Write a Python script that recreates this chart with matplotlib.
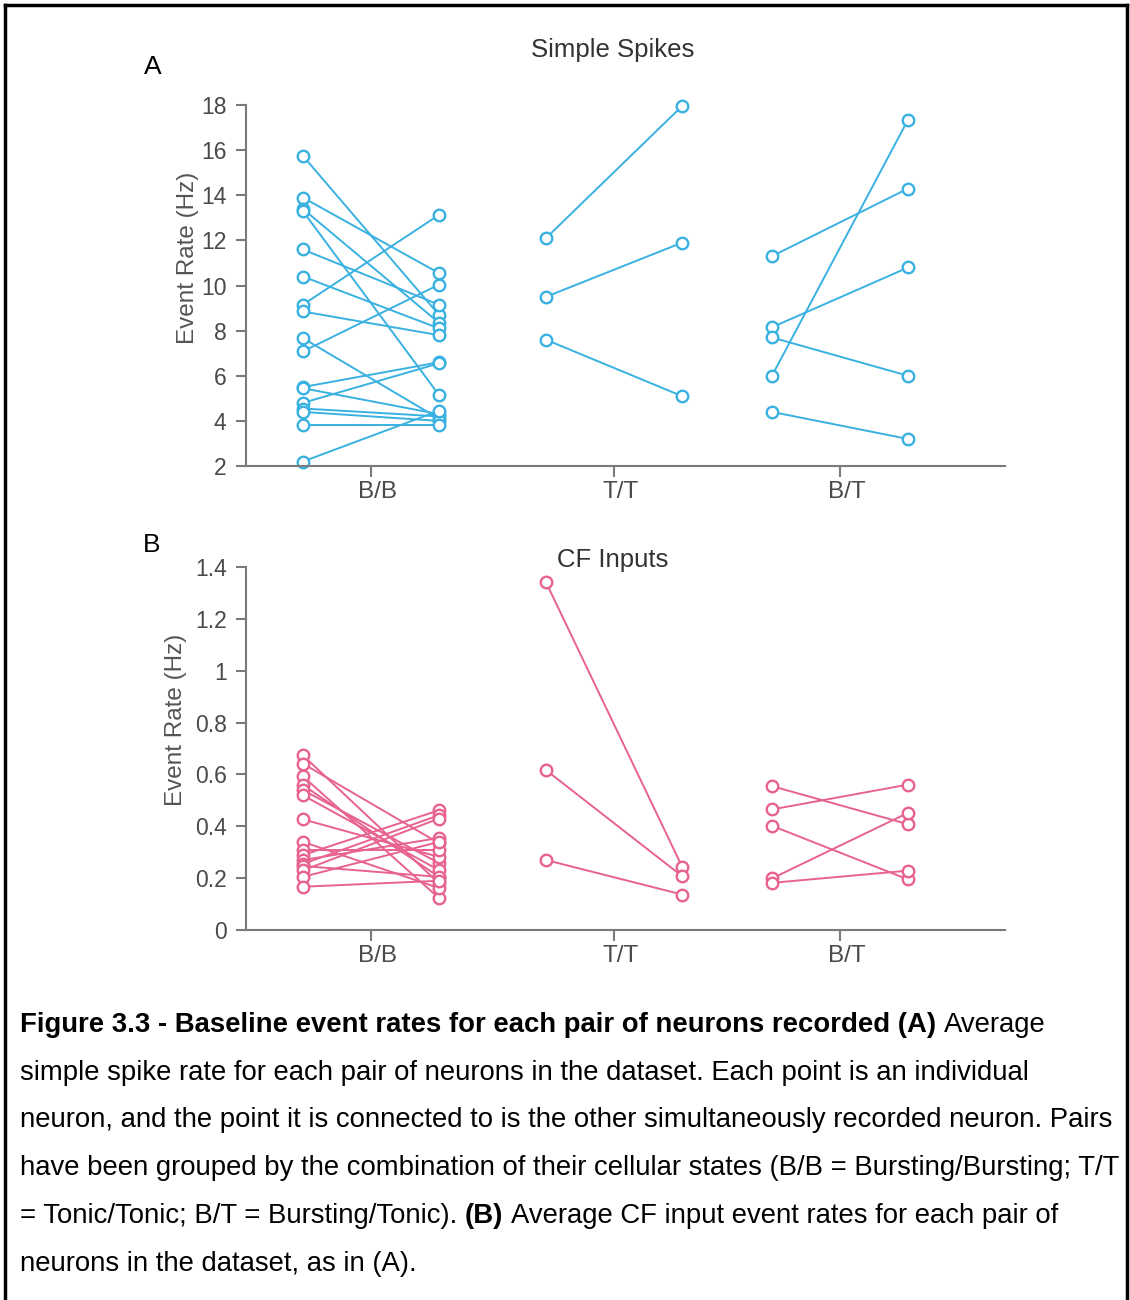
import matplotlib.pyplot as plt
from matplotlib.lines import Line2D

plt.rcParams['font.family'] = ['Liberation Sans', 'DejaVu Sans']

groups = ['B/B', 'T/T', 'B/T']
group_x = [1.0, 2.0, 2.93]
half = 0.28

# (A) simple spike rate (Hz): first / second neuron of each pair
ss_bb_1 = [15.75, 13.9, 13.4, 13.3, 11.6, 10.4, 9.15, 8.85, 7.67, 7.08,
           5.5, 5.45, 4.8, 4.55, 4.4, 3.8, 2.2]
ss_bb_2 = [8.7, 10.55, 8.35, 5.15, 9.15, 8.1, 13.13, 7.8, 4.1, 10.04,
           6.6, 4.3, 6.55, 4.2, 4.0, 3.8, 4.45]
ss_tt_1 = [12.1, 9.5, 7.6]
ss_tt_2 = [17.95, 11.9, 5.1]
ss_bt_1 = [11.3, 8.15, 7.7, 6.0, 4.4]
ss_bt_2 = [14.3, 10.8, 6.0, 17.35, 3.2]

# (B) CF input event rate (Hz)
cf_bb_1 = [0.674, 0.642, 0.593, 0.559, 0.54, 0.52, 0.427, 0.34, 0.308,
           0.289, 0.27, 0.255, 0.247, 0.23, 0.205, 0.167]
cf_bb_2 = [0.18, 0.335, 0.123, 0.205, 0.258, 0.231, 0.282, 0.162, 0.308,
           0.462, 0.355, 0.443, 0.205, 0.43, 0.34, 0.19]
cf_tt_1 = [1.342, 0.617, 0.27]
cf_tt_2 = [0.245, 0.208, 0.137]
cf_bt_1 = [0.555, 0.465, 0.402, 0.199, 0.182]
cf_bt_2 = [0.408, 0.561, 0.195, 0.452, 0.229]

blue = '#39b1e1'
pink = '#e8628e'
grey = '#7a7a7a'

fig = plt.figure(figsize=(11.3, 13), dpi=100)


def panel(rect, data, color, ylim, yticks, yticklabels, label_xy):
    ax = fig.add_axes(rect)
    for x, (first, second) in zip(group_x, data):
        for a, b in zip(first, second):
            ax.plot([x - half, x + half], [a, b], '-o', color=color, lw=1.4,
                    ms=8.3, mfc='white', mew=1.7, clip_on=False)
    ax.set_xlim(0.486, 3.609)
    ax.set_ylim(*ylim)
    ax.set_yticks(yticks)
    ax.set_yticklabels(yticklabels)
    ax.set_xticks(group_x)
    ax.set_xticklabels([])
    for x, g in zip(group_x, groups):
        ax.annotate(g, (x, 0), xycoords=('data', 'axes fraction'),
                    xytext=(5, -19), textcoords='offset points',
                    ha='center', va='center', fontsize=17.5, color='#4a4a4a')
    ax.tick_params(axis='y', labelsize=16.5, labelcolor='#4a4a4a', length=7,
                   width=1.5, color=grey, pad=7)
    ax.tick_params(axis='x', length=8, width=1.5, color=grey)
    for s in ['top', 'right']:
        ax.spines[s].set_visible(False)
    for s in ['left', 'bottom']:
        ax.spines[s].set_color(grey)
        ax.spines[s].set_linewidth(1.5)
    ax.set_ylabel('Event Rate (Hz)', fontsize=17.5, color='#555555')
    ax.yaxis.set_label_coords(*label_xy)
    return ax


axA = panel([0.2177, 0.6415, 0.6717, 0.2777],
            [(ss_bb_1, ss_bb_2), (ss_tt_1, ss_tt_2), (ss_bt_1, ss_bt_2)],
            blue, (2, 18), range(2, 19, 2), [str(v) for v in range(2, 19, 2)],
            (-0.062, 0.576))
axB = panel([0.2177, 0.2846, 0.6717, 0.2792],
            [(cf_bb_1, cf_bb_2), (cf_tt_1, cf_tt_2), (cf_bt_1, cf_bt_2)],
            pink, (0, 1.4), [0, 0.2, 0.4, 0.6, 0.8, 1, 1.2, 1.4],
            ['0', '0.2', '0.4', '0.6', '0.8', '1', '1.2', '1.4'],
            (-0.078, 0.578))

fig.text(613 / 1130, 1 - 50 / 1300, 'Simple Spikes', fontsize=18.5,
         color='#333333', ha='center', va='center')
fig.text(613 / 1130, 1 - 560 / 1300, 'CF Inputs', fontsize=18.5,
         color='#333333', ha='center', va='center')
fig.text(153 / 1130, 1 - 67 / 1300, 'A', fontsize=19, ha='center', va='center')
fig.text(152 / 1130, 1 - 545 / 1300, 'B', fontsize=19, ha='center', va='center')

# frame
for xs, ys in [([0.0045, 0.0045], [0, 0.996]), ([0.9973, 0.9973], [0, 0.996]),
               ([0.0045, 0.9973], [0.996, 0.996])]:
    fig.add_artist(Line2D(xs, ys, transform=fig.transFigure, color='black', lw=2.5))

# caption, pieced together from bold and regular runs
cap_fs = 19.8
caption = [
    [('Figure 3.3 - Baseline event rates for each pair of neurons recorded (A)', 'bold'),
     ('Average', 'normal')],
    [('simple spike rate for each pair of neurons in the dataset. Each point is an individual', 'normal')],
    [('neuron, and the point it is connected to is the other simultaneously recorded neuron. Pairs', 'normal')],
    [('have been grouped by the combination of their cellular states (B/B = Bursting/Bursting; T/T', 'normal')],
    [('= Tonic/Tonic; B/T = Bursting/Tonic).', 'normal'), ('(B)', 'bold'),
     ('Average CF input event rates for each pair of', 'normal')],
    [('neurons in the dataset, as in (A).', 'normal')],
]
renderer = fig.canvas.get_renderer()


def width(s, weight):
    t = fig.text(0, 0, s, fontsize=cap_fs, fontweight=weight)
    w = t.get_window_extent(renderer).width
    t.remove()
    return w


space = width('x x', 'normal') - width('xx', 'normal')
baseline = 1032
for line in caption:
    x = 20
    for i, (s, weight) in enumerate(line):
        if i:
            x += space
        fig.text(x / 1130, 1 - baseline / 1300, s, fontsize=cap_fs,
                 fontweight=weight, va='baseline', color='black')
        x += width(s, weight)
    baseline += 47.7

fig.savefig('out.png', dpi=100)
